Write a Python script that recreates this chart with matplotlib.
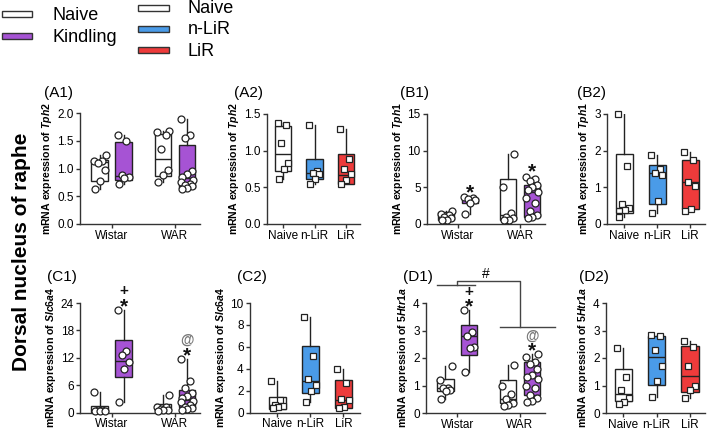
import matplotlib
matplotlib.use("Agg")
import matplotlib.pyplot as plt
from matplotlib.patches import Rectangle
import numpy as np

plt.rcParams['font.family'] = ['Liberation Sans', 'DejaVu Sans']
plt.rcParams['mathtext.fontset'] = 'custom'
plt.rcParams['mathtext.it'] = 'Liberation Sans:italic:bold'
plt.rcParams['mathtext.rm'] = 'Liberation Sans:bold'

#----------data------------------------------------
strains = ['Wistar', 'WAR']
drug_groups = ['Naive', 'n-LiR', 'LiR']

WHITE = '#ffffff'
PURPLE = '#a653d4'
BLUE = '#4a9be8'
RED = '#ee3b3b'

# order in strain panels: Wistar naive, Wistar kindling, WAR naive, WAR kindling
# quartiles are (q1, median, q3) as drawn in the figure

# A1 Tph2
a1_wistar_naive = [1.24, 1.14, 1.13, 1.10, 0.98, 0.78, 0.63]
a1_wistar_kind = [1.60, 1.50, 0.88, 0.85, 0.82, 0.72]
a1_war_naive = [1.68, 1.65, 1.60, 1.35, 0.97, 0.88, 0.75]
a1_war_kind = [1.90, 1.60, 1.55, 0.95, 0.90, 0.85, 0.80, 0.75, 0.72, 0.70, 0.68, 0.65, 0.63]
a1_quart = [(0.78, 1.11, 1.15), (0.79, 0.86, 1.47), (0.87, 1.17, 1.62), (0.65, 0.83, 1.43)]

# A2 Tph2
a2_naive = [1.38, 1.35, 1.10, 0.83, 0.75, 0.62]
a2_nlir = [1.35, 0.72, 0.70, 0.68, 0.62, 0.55]
a2_lir = [1.30, 0.88, 0.75, 0.68, 0.60, 0.55]
a2_quart = [(0.72, 0.96, 1.33), (0.61, 0.70, 0.89), (0.55, 0.67, 0.95)]

# B1 Tph1
b1_wistar_naive = [1.8, 1.4, 1.2, 1.0, 0.8, 0.6, 0.5]
b1_wistar_kind = [3.7, 3.5, 3.4, 3.3, 2.9, 1.4]
b1_war_naive = [9.5, 5.0, 1.5, 1.0, 0.8, 0.6, 0.6]
b1_war_kind = [6.4, 6.1, 5.9, 5.3, 5.0, 4.6, 4.3, 3.6, 2.8, 1.8, 1.2, 1.0, 0.8]
b1_quart = [(0.55, 1.1, 1.6), (2.85, 3.35, 3.6), (0.6, 1.25, 6.1), (0.9, 4.3, 5.3)]

# B2 Tph1
b2_naive = [3.0, 1.57, 0.55, 0.45, 0.38, 0.20]
b2_nlir = [1.88, 1.50, 1.40, 1.35, 0.62, 0.30]
b2_lir = [1.97, 1.75, 1.15, 1.05, 0.42, 0.35]
b2_quart = [(0.3, 0.45, 1.92), (0.55, 1.4, 1.6), (0.4, 1.15, 1.75)]

# C1 Slc6a4
c1_wistar_naive = [4.5, 0.6, 0.5, 0.4, 0.4, 0.4]
c1_wistar_kind = [22.5, 13.5, 12.5, 11.0, 9.5, 2.2]
c1_war_naive = [3.8, 1.3, 1.2, 0.8, 0.6, 0.5, 0.4]
c1_war_kind = [11.8, 7.0, 5.3, 4.2, 3.7, 3.2, 2.6, 2.2, 1.7, 1.3, 1.0, 0.7, 0.5]
c1_quart = [(0.2, 0.45, 1.5), (7.7, 11.3, 15.8), (0.45, 1.0, 1.8), (1.3, 2.7, 4.9)]

# C2 Slc6a4
c2_naive = [2.9, 1.1, 0.7, 0.6, 0.5, 0.4]
c2_nlir = [8.7, 5.2, 3.1, 2.5, 2.0, 1.0]
c2_lir = [4.0, 2.7, 1.2, 1.1, 0.5, 0.45]
c2_quart = [(0.35, 0.7, 1.4), (1.75, 2.85, 6.05), (0.45, 1.1, 3.0)]

# D1 5Htr1a
d1_wistar_naive = [1.70, 1.20, 0.90, 0.90, 0.85, 0.80, 0.50]
d1_wistar_kind = [3.75, 2.95, 2.80, 2.40, 2.35, 1.50]
d1_war_naive = [1.75, 1.00, 0.70, 0.50, 0.35, 0.30, 0.25]
d1_war_kind = [2.15, 2.05, 1.85, 1.80, 1.60, 1.40, 1.30, 1.25, 1.00, 0.90, 0.65, 0.55, 0.45, 0.40]
d1_quart = [(0.8, 0.9, 1.25), (2.1, 2.8, 3.2), (0.35, 0.5, 1.2), (0.65, 1.3, 1.85)]

# D2 5Htr1a
d2_naive = [2.35, 1.30, 0.85, 0.55, 0.40, 0.32]
d2_nlir = [2.85, 2.80, 2.30, 1.70, 1.15, 0.60]
d2_lir = [2.62, 2.40, 1.70, 0.97, 0.85, 0.55]
d2_quart = [(0.45, 0.7, 1.6), (1.03, 2.05, 2.8), (0.78, 1.33, 2.42)]

#----------helpers---------------------------------
W, H = 709, 430
fig = plt.figure(figsize=(W / 100, H / 100), dpi=100)


def px_axes(left, right, top, bottom):
    return fig.add_axes([left / W, 1 - bottom / H, (right - left) / W, (bottom - top) / H])


def swarm(vals, center, half):
    # deterministic spread of points inside the box
    order = np.argsort(vals)
    pattern = [-0.55, 0.05, 0.6, -0.25, 0.35, -0.7, 0.75]
    xs = np.zeros(len(vals))
    for k, i in enumerate(order):
        xs[i] = center + pattern[k % len(pattern)] * half
    return xs


def draw_boxes(ax, data, quart, pos, colors, width, marker):
    stats = []
    for vals, (q1, med, q3) in zip(data, quart):
        stats.append(dict(q1=q1, med=med, q3=q3, whislo=min(vals), whishi=max(vals), fliers=[]))
    bp = ax.bxp(stats, positions=pos, widths=width, patch_artist=True, showfliers=False,
                showcaps=False, manage_ticks=False,
                medianprops=dict(color='#222222', lw=1.0),
                whiskerprops=dict(color='#222222', lw=1.0),
                boxprops=dict(edgecolor='#222222', lw=1.0))
    for patch, c in zip(bp['boxes'], colors):
        patch.set_facecolor(c)
    for vals, p in zip(data, pos):
        ax.plot(swarm(vals, p, width / 2), vals, linestyle='none', marker=marker,
                ms=5.0, mfc='white', mec='#222222', mew=0.9, zorder=4, clip_on=False)


def style(ax, ylim, yticks, fmt, gene, xlabels, xticks, xlim):
    ax.set_ylim(*ylim)
    ax.set_xlim(*xlim)
    ax.set_yticks(yticks)
    ax.set_yticklabels([fmt.format(v) for v in yticks])
    ax.set_xticks(xticks)
    ax.set_xticklabels(xlabels)
    for s in ['top', 'right']:
        ax.spines[s].set_visible(False)
    for s in ['left', 'bottom']:
        ax.spines[s].set_color('#333333')
        ax.spines[s].set_linewidth(1.0)
    ax.tick_params(axis='both', labelsize=8.5, length=3, width=1.0, color='#333333', pad=1.5)
    ax.tick_params(axis='x', pad=1)
    ax.set_ylabel('mRNA expression of $\\it{' + gene + '}$', fontsize=7.6, fontweight='bold', labelpad=2)


def strain_panel(ax, groups, quart, ylim, yticks, fmt, gene):
    off, bw = 0.19, 0.26
    data, pos, cols = [], [], []
    for s, (nv, kd) in enumerate(groups):
        data += [nv, kd]
        pos += [s - off, s + off]
        cols += [WHITE, PURPLE]
    draw_boxes(ax, data, quart, pos, cols, bw, 'o')
    style(ax, ylim, yticks, fmt, gene, strains, [0, 1], (-0.5, 1.4))
    return pos, data


def drug_panel(ax, groups, quart, ylim, yticks, fmt, gene, xlim=(-0.52, 2.45)):
    draw_boxes(ax, groups, quart, [0, 1, 2], [WHITE, BLUE, RED], 0.52, 's')
    style(ax, ylim, yticks, fmt, gene, drug_groups, [0, 1, 2], xlim)


def mark(ax, x, y, sym, dy, color='#111111', size=11):
    # dy: offset in pixels above the data point
    ax.annotate(sym, (x, y), xytext=(0, dy), textcoords='offset pixels', ha='center', va='center',
                fontsize=size, color=color, fontweight='bold', annotation_clip=False)


def title(x, y, t):
    fig.text(x / W, 1 - y / H, t, fontsize=11, ha='left', va='center')


#----------row 1-----------------------------------
ax = px_axes(80, 200, 113, 224)
strain_panel(ax, [(a1_wistar_naive, a1_wistar_kind), (a1_war_naive, a1_war_kind)], a1_quart,
             (0, 2.0), [0, 0.5, 1.0, 1.5, 2.0], '{:.1f}', 'Tph2')
title(44, 93, '(A1)')

ax = px_axes(267, 360, 114, 224)
drug_panel(ax, [a2_naive, a2_nlir, a2_lir], a2_quart, (0, 1.5), [0, 0.5, 1.0, 1.5], '{:.1f}', 'Tph2')
title(234, 93, '(A2)')

ax = px_axes(427, 545, 114, 224)
pos, data = strain_panel(ax, [(b1_wistar_naive, b1_wistar_kind), (b1_war_naive, b1_war_kind)], b1_quart,
                         (0, 15), [0, 5, 10, 15], '{:.0f}', 'Tph1')
mark(ax, pos[1], max(data[1]), '*', 4, size=15)
mark(ax, pos[3], max(data[3]), '*', 5, size=15)
title(400, 93, '(B1)')

ax = px_axes(607, 705, 114, 224)
drug_panel(ax, [b2_naive, b2_nlir, b2_lir], b2_quart, (0, 3), [0, 1, 2, 3], '{:.0f}', 'Tph1')
title(577, 93, '(B2)')

#----------row 2-----------------------------------
ax = px_axes(80, 200, 303, 412.5)
pos, data = strain_panel(ax, [(c1_wistar_naive, c1_wistar_kind), (c1_war_naive, c1_war_kind)], c1_quart,
                         (0, 24), [0, 6, 12, 18, 24], '{:.0f}', 'Slc6a4')
mark(ax, pos[1], max(data[1]), '*', 3, size=15)
mark(ax, pos[1], max(data[1]), '+', 19, size=11)
mark(ax, pos[3], max(data[3]), '*', 3, size=15)
mark(ax, pos[3], max(data[3]), '@', 19, color='#777777', size=10)
title(47, 277, '(C1)')

ax = px_axes(250, 360, 303, 412.5)
drug_panel(ax, [c2_naive, c2_nlir, c2_lir], c2_quart, (0, 10), [0, 2, 4, 6, 8, 10], '{:.0f}',
           'Slc6a4', xlim=(-0.83, 2.5))
title(237, 277, '(C2)')

ax = px_axes(426, 545, 303, 413)
pos, data = strain_panel(ax, [(d1_wistar_naive, d1_wistar_kind), (d1_war_naive, d1_war_kind)], d1_quart,
                         (0, 4), [0, 1, 2, 3, 4], '{:.0f}', '5Htr1a')
mark(ax, pos[1], max(data[1]), '*', 3, size=15)
mark(ax, pos[1], max(data[1]), '+', 18, size=11)
mark(ax, pos[3], max(data[3]), '*', 3, size=15)
mark(ax, pos[3], max(data[3]), '@', 18, color='#777777', size=10)
# group comparison bracket
bk = dict(color='#444444', lw=1.0, clip_on=False)
ax.plot([-0.32, 0.28], [4.65, 4.65], **bk)
ax.plot([0, 0, 1.0, 1.0], [4.65, 4.8, 4.8, 3.13], **bk)
ax.plot([0.68, 1.56], [3.13, 3.13], **bk)
ax.text(0.45, 5.05, '#', ha='center', va='center', fontsize=10, clip_on=False)
title(403, 277, '(D1)')

ax = px_axes(606, 705, 303, 413)
drug_panel(ax, [d2_naive, d2_nlir, d2_lir], d2_quart, (0, 4), [0, 1, 2, 3, 4], '{:.0f}', '5Htr1a')
title(579, 277, '(D2)')

#----------side label + legends--------------------
fig.text(22 / W, 1 - 252 / H, 'Dorsal nucleus of raphe', rotation=90, fontsize=15,
         fontweight='bold', ha='center', va='center')

leg1 = ['Naive', 'Kindling']
leg1_c = [WHITE, PURPLE]
leg2 = drug_groups
leg2_c = [WHITE, BLUE, RED]
for i, (lab, c) in enumerate(zip(leg1, leg1_c)):
    yc = 14 + i * 22
    fig.patches.append(Rectangle((2 / W, 1 - (yc + 3) / H), 30 / W, 6 / H, transform=fig.transFigure,
                                 facecolor=c, edgecolor='#333333', lw=1.0))
    fig.text(52 / W, 1 - (yc + 2) / H, lab, fontsize=13, va='center', ha='left')
for i, (lab, c) in enumerate(zip(leg2, leg2_c)):
    yc = 7.5 + i * 21.3
    fig.patches.append(Rectangle((138 / W, 1 - (yc + 3) / H), 31 / W, 6 / H, transform=fig.transFigure,
                                 facecolor=c, edgecolor='#333333', lw=1.0))
    fig.text(188 / W, 1 - (yc + 1) / H, lab, fontsize=13, va='center', ha='left')

fig.savefig('out.png', dpi=100)
